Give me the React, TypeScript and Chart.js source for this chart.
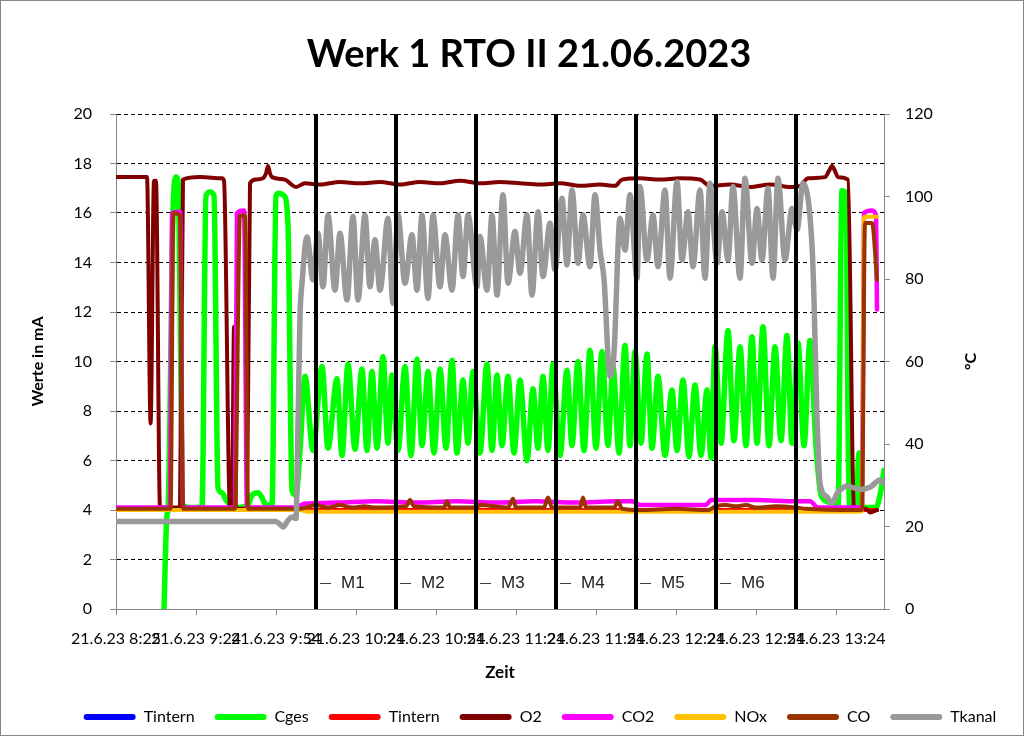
import { useEffect, useRef } from 'react';
import { Chart, registerables } from 'chart.js';

Chart.register(...registerables);

// ---- x axis: sample index (one tick label every 40 samples) ----
const xLabels = [
  '21.6.23 8:25', '21.6.23 9:24', '21.6.23 9:54', '21.6.23 10:24', '21.6.23 10:54',
  '21.6.23 11:24', '21.6.23 11:54', '21.6.23 12:24', '21.6.23 12:54', '21.6.23 13:24',
];
const xTickStep = 40;
const xMax = 384;

// ---- measurement markers ----
const markerX = [100, 140, 180, 220, 260, 300, 340];
const markerNames = ['M1', 'M2', 'M3', 'M4', 'M5', 'M6'];
const markerLabelValue = 1.05;

// ---- series (sample index, value) ----
const tinternBlue: number[][] = [[0, 4.0], [380.5, 4.0]];
const tinternRed: number[][] = [[0, 4.0], [380.5, 4.0]];

const cges: number[][] = [
  [24, 0], [25.5, 3.8], [26, 4.0], [28.5, 16.0], [30, 17.45], [31, 17.3], [33.5, 4.2], [37, 4.1],
  [43, 4.1], [45, 16.7], [47, 16.85], [49, 16.7], [51, 4.9], [53, 4.7], [55, 4.4], [60, 4.1],
  [66, 4.2], [68, 4.6], [71, 4.7], [73, 4.5], [75, 4.2], [78, 4.2], [80, 16.7], [81.5, 16.8],
  [84, 16.7], [86, 15.5], [88, 4.8], [90, 4.6], [92, 6.4],
  [94.5, 9.4], [98.5, 6.4], [103, 9.8], [106, 6.5], [110.5, 9.3], [113, 6.2], [116, 9.9], [119.5, 6.45],
  [123, 9.7], [125.5, 6.4], [128, 9.6], [130.5, 6.5], [133.5, 10.2], [136, 6.7], [138, 9.45], [141, 6.4],
  [144.5, 9.8], [147.5, 6.2], [150.5, 10.1], [153, 6.6], [156, 9.6], [159, 6.3], [162, 9.7], [165, 6.5],
  [168, 10.05], [170.5, 6.3], [173.5, 9.25], [176, 6.7], [178.5, 9.6], [182, 6.3], [185.5, 9.9], [188, 6.4],
  [190.5, 9.45], [193, 6.6], [196, 9.4], [199, 6.3], [202, 9.25], [205.5, 6.0], [208.5, 8.9], [211, 6.5],
  [213.5, 9.4], [216, 6.4], [218.5, 9.9], [222, 6.2], [225.5, 9.65], [228, 6.6], [231, 10.0], [234, 6.4],
  [237, 10.45], [240, 6.5], [243, 10.4], [246, 6.6], [248.5, 9.8], [251.5, 6.3], [254.5, 10.65], [257, 6.6],
  [259.5, 10.4], [262.5, 6.7], [265.5, 10.3], [268, 6.5], [271, 9.4], [274.5, 6.2], [278, 8.85], [280.5, 6.4],
  [283.5, 9.25], [286.5, 6.15], [289.5, 9.05], [292.5, 6.2], [295.5, 8.85], [297.5, 6.1], [299.5, 10.6],
  [302.5, 6.7], [306, 11.25], [309, 6.8], [312, 10.6], [315, 6.6], [318, 11.0], [320.5, 6.7], [323.5, 11.4],
  [326.5, 6.6], [329.5, 10.6], [332.5, 6.8], [335.5, 11.05], [338, 6.7], [341, 10.75], [344, 6.6],
  [347, 10.85], [350, 6.6], [352.5, 4.6], [357, 4.3], [361, 4.1], [363, 16.9], [365, 16.8], [366.5, 4.2],
  [370, 4.1], [371.5, 6.3], [373, 4.1], [380, 4.1], [382, 4.6], [384, 5.6],
];

const o2: number[][] = [
  [0, 17.45], [15.5, 17.45], [17.3, 7.5], [19, 17.3], [20, 17.3], [22, 4.1], [32, 4.1], [33.5, 17.35],
  [42, 17.45], [53, 17.4], [54, 17.3], [57, 4.05], [58, 4.05], [59, 11.4], [60, 4.05], [65.5, 4.05],
  [67, 17.2], [70, 17.35], [73.5, 17.4], [75, 17.6], [76, 17.9], [77, 17.6], [78, 17.45], [84.5, 17.35],
  [87, 17.2], [90, 17.05], [94.5, 17.2], [102, 17.15], [112, 17.25], [122, 17.2], [132, 17.25],
  [142, 17.15], [152, 17.25], [162, 17.2], [172, 17.3], [182, 17.2], [192, 17.25], [202, 17.2],
  [212, 17.15], [222, 17.2], [232, 17.1], [242, 17.15], [249.5, 17.1], [253, 17.35], [262, 17.4],
  [272, 17.35], [282, 17.4], [292, 17.35], [297, 17.1], [307, 17.15], [317, 17.05], [327, 17.15],
  [337, 17.05], [342, 17.1], [346, 17.4], [354.5, 17.45], [356.5, 17.7], [358, 17.9], [359.5, 17.7],
  [361, 17.45], [366, 17.35], [369, 4.05], [375, 4.05], [377, 3.9], [380.5, 4.0],
];

const co2: number[][] = [
  [0, 4.1], [27, 4.1], [28, 16.0], [32, 16.05], [33.5, 4.1], [59.5, 4.1], [60.5, 16.0], [64, 16.1],
  [65.5, 4.1], [90, 4.1], [94, 4.25], [110, 4.3], [130, 4.35], [150, 4.3], [170, 4.35], [190, 4.3],
  [210, 4.35], [230, 4.3], [250, 4.35], [258, 4.35], [262, 4.2], [295, 4.2], [297.5, 4.4], [320, 4.4],
  [340, 4.35], [347, 4.35], [351, 4.1], [373, 4.1], [374, 16.0], [378, 16.1], [380, 15.9], [380.5, 12.1],
];

const nox: number[][] = [
  [0, 4.0], [92, 4.0], [96, 3.93], [370, 3.93], [373, 3.95], [374, 15.85], [380.5, 15.85],
];

const co: number[][] = [
  [0, 4.05], [27.3, 4.05], [28.7, 16.0], [32, 15.9], [33.5, 4.05], [59.5, 4.05], [62, 15.9],
  [64.5, 15.9], [66, 4.05], [90, 4.05], [92, 4.05], [100, 4.2], [106, 4.1], [112, 4.2], [118, 4.1],
  [124, 4.15], [130, 4.1], [145, 4.15], [147, 4.4], [149, 4.15], [164, 4.1], [165.5, 4.35], [167, 4.1],
  [180, 4.1], [182, 4.2], [196, 4.1], [198.5, 4.45], [200, 4.1], [214, 4.1], [216, 4.5], [218, 4.1],
  [232, 4.1], [233.5, 4.5], [235, 4.1], [249, 4.1], [251, 4.35], [253, 4.05], [262, 4.0], [280, 4.05],
  [296, 4.0], [300, 4.15], [305, 4.2], [310, 4.15], [315, 4.2], [320, 4.1], [330, 4.15], [340, 4.1],
  [345, 4.05], [370, 4.0], [373, 4.0], [374.5, 15.6], [378, 15.6], [380.5, 13.3],
];

const tkanal: number[][] = [
  [0, 21.2], [80, 21.2], [82, 20.5], [83.5, 19.9], [86, 21.5], [88, 22.3], [90, 22.0], [91, 45],
  [92, 71], [93, 79], [95.5, 90.2], [98.5, 79.8], [101, 91.1], [103.5, 78.1], [106, 95.5], [109.5, 77.3],
  [112, 91.1], [115.5, 74.9], [118.5, 95.2], [121, 74.9], [124.5, 95.5], [127, 78.1], [129.5, 89.5],
  [132, 77.3], [136, 94.7], [138.5, 74.1], [141, 95.5], [144.5, 79.0], [148, 90.7], [150.5, 77.3],
  [153, 95.5], [156, 75.3], [158.5, 95.5], [162, 78.1], [164.5, 90.7], [168, 77.3], [171, 95.5],
  [173.5, 80.6], [176, 95.5], [180.5, 78.1], [182, 90.3], [185.5, 77.3], [188, 95.5], [190.5, 76.1],
  [193.5, 100.4], [196, 79.0], [199.5, 91.5], [202, 81.4], [205.5, 95.5], [208, 76.1], [211, 96.3],
  [213.5, 80.6], [217, 93.5], [219.5, 82.2], [223, 99.6], [225.5, 83.4], [228, 101.6], [231, 83.8],
  [233.5, 95.5], [237, 83.0], [239.5, 100.4], [242, 87.0], [244, 80], [247, 56.3], [249, 62],
  [252, 94.7], [254.5, 87.0], [257, 100.4], [260.5, 80.2], [262, 102.4], [265.5, 84.6], [268.5, 95.5],
  [271, 83.0], [274.5, 101.6], [277, 80.2], [280.5, 103.6], [283, 84.6], [286, 96.3], [288.5, 83.0],
  [292, 101.6], [294.5, 80.2], [297, 103.2], [300.5, 83.8], [303, 96.3], [306, 84.6], [308.5, 102.4],
  [312, 80.2], [314.5, 104.4], [318, 83.8], [320.5, 97.1], [323, 84.6], [326, 102.0], [328.5, 80.2],
  [331, 104.4], [334.5, 84.6], [338, 97.1], [340.5, 91.9], [343.5, 103.2], [348, 88.2], [349, 75],
  [350.5, 46.6], [352, 30.5], [355.5, 27.2], [358, 25.6], [360.5, 28.0], [362, 28.8], [365.5, 29.8],
  [372, 29.0], [377, 29.5], [382, 31.3], [384, 30.5],
];

const FONT = 'Lato';

const toXY = (pairs: number[][]) => pairs.map(([x, y]) => ({ x, y }));

const series = (label: string, pairs: number[][], color: string, width: number, order: number, axis = 'y') => ({
  label,
  data: toXY(pairs),
  borderColor: color,
  backgroundColor: color,
  borderWidth: width,
  pointRadius: 0,
  pointHoverRadius: 0,
  cubicInterpolationMode: 'monotone' as const,
  fill: false,
  borderJoinStyle: 'round' as const,
  borderCapStyle: 'round' as const,
  order,
  yAxisID: axis,
});

const markerLabelsPlugin = {
  id: 'markerLabels',
  afterDatasetsDraw(chart: any) {
    const { ctx } = chart;
    const xs = chart.scales.x;
    const ys = chart.scales.y;
    const py = ys.getPixelForValue(markerLabelValue);
    ctx.save();
    markerNames.forEach((name, i) => {
      const px = xs.getPixelForValue(markerX[i]);
      ctx.strokeStyle = '#404040';
      ctx.lineWidth = 1;
      ctx.beginPath();
      ctx.moveTo(px + 4, Math.round(py) + 0.5);
      ctx.lineTo(px + 15, Math.round(py) + 0.5);
      ctx.stroke();
      ctx.fillStyle = '#222';
      ctx.font = '17px "Liberation Sans"';
      ctx.textAlign = 'left';
      ctx.textBaseline = 'middle';
      ctx.fillText(name, px + 25, py);
    });
    ctx.restore();
  },
};

const rightTitlePlugin = {
  id: 'rightTitle',
  afterDraw(chart: any) {
    const { ctx, chartArea } = chart;
    const s = chart.scales.y1;
    ctx.save();
    ctx.translate(s.right - 52, (chartArea.top + chartArea.bottom) / 2);
    ctx.rotate(-Math.PI / 2);
    ctx.font = `bold 16px ${FONT}`;
    ctx.fillStyle = '#000';
    ctx.textAlign = 'center';
    ctx.textBaseline = 'middle';
    ctx.fillText('°C', 0, 0);
    ctx.restore();
  },
};

const shiftBoxesPlugin = {
  id: 'shiftBoxes',
  afterLayout(chart: any) {
    const t = chart.titleBlock;
    if (t) { t.left += 17; t.right += 17; }
    const l = chart.legend;
    if (l) { l.left += 28; l.right += 28; }
  },
};

export default function App() {
  const ref = useRef<HTMLCanvasElement>(null);

  useEffect(() => {
    if (!ref.current) return;
    const markerSets = markerX.map((mx, i) => ({
      label: `marker${i}`,
      data: [{ x: mx, y: 0 }, { x: mx, y: 20 }],
      borderColor: '#000',
      backgroundColor: '#000',
      borderWidth: 4,
      pointRadius: 0,
      pointHoverRadius: 0,
      borderCapStyle: 'butt' as const,
      order: 0,
      yAxisID: 'y',
    }));

    const chart = new Chart(ref.current, {
      type: 'line',
      data: {
        datasets: [
          series('Tintern', tinternBlue, '#0000FF', 4, 8),
          series('Cges', cges, '#00FF00', 5.5, 7),
          series('Tintern', tinternRed, '#FF0000', 4, 6),
          series('O2', o2, '#800000', 4, 5),
          series('CO2', co2, '#FF00FF', 4.5, 4),
          series('NOx', nox, '#FFC000', 4, 3),
          series('CO', co, '#993300', 4, 2),
          series('Tkanal', tkanal, '#999999', 5.5, 1, 'y1'),
          ...markerSets,
        ] as any,
      },
      options: {
        responsive: false,
        animation: false,
        events: [],
        layout: { padding: 0 },
        scales: {
          x: {
            type: 'linear',
            min: 0,
            max: xMax,
            afterFit: (s: any) => { s.height = 80; },
            ticks: {
              stepSize: xTickStep,
              includeBounds: false,
              autoSkip: false,
              maxRotation: 0,
              minRotation: 0,
              padding: 14,
              color: '#000',
              font: { family: FONT, size: 16 },
              callback: (v: any) => (Number(v) % xTickStep === 0 ? xLabels[Math.round(Number(v) / xTickStep)] ?? '' : ''),
            },
            grid: { drawOnChartArea: false, drawTicks: true, tickLength: 6, tickColor: '#868686' },
            border: { color: '#868686', width: 1 },
            title: {
              display: true,
              text: 'Zeit',
              color: '#000',
              font: { family: FONT, size: 17, weight: 'bold' },
              padding: { top: 0, bottom: 6 },
            },
          },
          y: {
            type: 'linear',
            position: 'left',
            min: 0,
            max: 20,
            afterFit: (s: any) => { s.width = 115; },
            ticks: { stepSize: 2, padding: 18, color: '#000', font: { family: FONT, size: 16 } },
            grid: {
              color: (c: any) => (c.tick && c.tick.value === 0 ? 'rgba(0,0,0,0)' : '#000'),
              lineWidth: 1,
              drawTicks: true,
              tickLength: 6,
              tickColor: '#868686',
            },
            border: { color: '#868686', width: 1, dash: [4, 3] },
            title: {
              display: true,
              text: 'Werte in mA',
              color: '#000',
              font: { family: FONT, size: 16, weight: 'bold' },
              padding: { top: 27, bottom: 0 },
            },
          },
          y1: {
            type: 'linear',
            position: 'right',
            min: 0,
            max: 120,
            afterFit: (s: any) => { s.width = 139; },
            ticks: { stepSize: 20, padding: 15, color: '#000', font: { family: FONT, size: 16 } },
            grid: { drawOnChartArea: false, drawTicks: true, tickLength: 6, tickColor: '#868686' },
            border: { color: '#868686', width: 1 },
            title: { display: false },
          },
        },
        plugins: {
          tooltip: { enabled: false },
          title: {
            display: true,
            text: 'Werk 1 RTO II 21.06.2023',
            color: '#000',
            font: { family: FONT, size: 38, weight: 'bold', lineHeight: 1.2 },
            padding: { top: 31, bottom: 36.4 },
          },
          legend: {
            display: true,
            position: 'bottom',
            labels: {
              color: '#000',
              font: { family: FONT, size: 16 },
              boxWidth: 52,
              boxHeight: 6,
              padding: 20,
              useBorderRadius: true,
              borderRadius: 3,
              filter: (item: any) => item.datasetIndex < 8,
              sort: (a: any, b: any) => a.datasetIndex - b.datasetIndex,
              generateLabels: (ch: any) =>
                (Chart.defaults.plugins.legend.labels.generateLabels as any)(ch).map((it: any) => ({
                  ...it,
                  fillStyle: it.strokeStyle,
                  lineWidth: 0,
                })),
            },
          },
        },
      } as any,
      plugins: [markerLabelsPlugin, rightTitlePlugin, shiftBoxesPlugin],
    });
    return () => chart.destroy();
  }, []);

  return (
    <div
      style={{
        position: 'absolute',
        left: 0,
        top: 0,
        width: 1022,
        height: 734,
        border: '1px solid #868686',
        background: '#fff',
      }}
    >
      <canvas ref={ref} width={1022} height={734} style={{ display: 'block', width: 1022, height: 734 }} />
    </div>
  );
}
